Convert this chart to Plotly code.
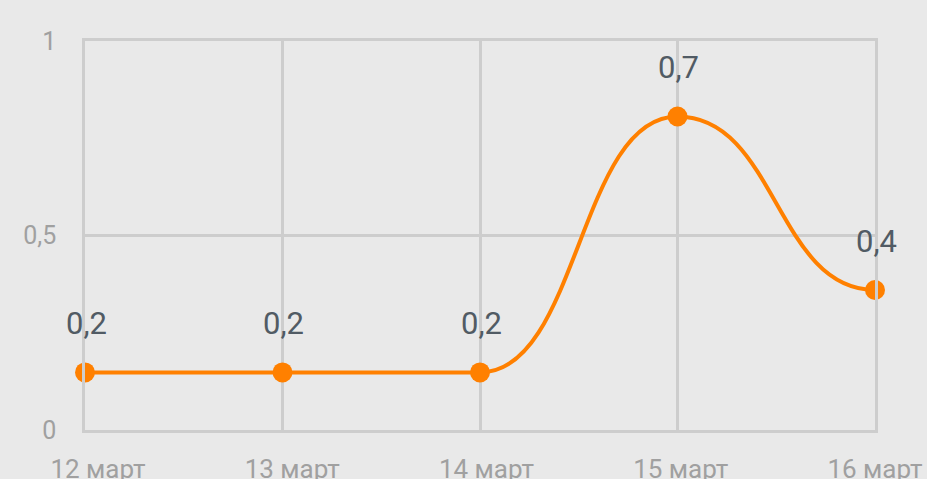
import plotly.graph_objects as go

categories = ["12 март", "13 март", "14 март", "15 март", "16 март"]
values = [0.148, 0.148, 0.148, 0.806, 0.36]
labels = ["0,2", "0,2", "0,2", "0,7", "0,4"]
y_tick_vals = [0, 0.5, 1]
y_tick_text = ["0", "0,5", "1"]

x_idx = list(range(len(categories)))

# smooth line: cubic Bezier segments with horizontal tangents at each point (bump-x curve)
path = f"M {x_idx[0]},{values[0]}"
for i in range(1, len(x_idx)):
    xm = (x_idx[i - 1] + x_idx[i]) / 2
    path += f" C {xm},{values[i-1]} {xm},{values[i]} {x_idx[i]},{values[i]}"

fig = go.Figure()
fig.add_shape(type="path", path=path, xref="x", yref="y", layer="between",
              line=dict(color="#ff8000", width=4))
fig.add_trace(go.Scatter(
    x=x_idx, y=values, mode="markers",
    marker=dict(color="#ff8000", size=20),
    cliponaxis=False, hoverinfo="skip", showlegend=False,
))
# invisible trace carrying the category label axis
fig.add_trace(go.Scatter(
    x=x_idx, y=values, xaxis="x2", mode="markers",
    marker=dict(opacity=0), hoverinfo="skip", showlegend=False,
))

for xi, v, t in zip(x_idx, values, labels):
    fig.add_annotation(x=xi, y=v, text=t, showarrow=False, yanchor="bottom",
                       yshift=28, xshift=1,
                       font=dict(family="Roboto", size=31, color="#515b64"))

grid = "#cdcdcd"
fig.update_layout(
    width=927, height=479,
    margin=dict(l=85, r=52, t=41, b=49, autoexpand=False),
    paper_bgcolor="#e9e9e9", plot_bgcolor="#e9e9e9",
    font=dict(family="Roboto", color="#9e9e9e", size=26),
    xaxis=dict(
        range=[0, 4], tickvals=x_idx, showticklabels=False,
        showgrid=True, gridcolor=grid, gridwidth=2.5,
        showline=True, mirror=True, linecolor=grid, linewidth=2.5,
        zeroline=False, ticks="", automargin=False,
    ),
    xaxis2=dict(
        overlaying="x", side="bottom", range=[-0.0668, 4.0],
        tickvals=x_idx, ticktext=categories, showgrid=False,
        zeroline=False, showline=False, ticks="", automargin=False,
        ticklabelstandoff=21, tickfont=dict(size=26, color="#a0a0a0"),
    ),
    yaxis=dict(
        range=[0, 1], tickvals=y_tick_vals, ticktext=y_tick_text,
        showgrid=True, gridcolor=grid, gridwidth=2.5,
        showline=True, mirror=True, linecolor=grid, linewidth=2.5,
        zeroline=False, ticks="", automargin=False,
        ticklabelstandoff=21, tickfont=dict(size=25, color="#a0a0a0"),
    ),
)

fig.write_html("out.html", config={"displayModeBar": False})
with open("out.html", encoding="utf-8") as f:
    html = f.read()
html = html.replace("<head>", "<head><style>html,body{margin:0;padding:0;background:#e9e9e9;overflow:hidden}</style>", 1)
with open("out.html", "w", encoding="utf-8") as f:
    f.write(html)
